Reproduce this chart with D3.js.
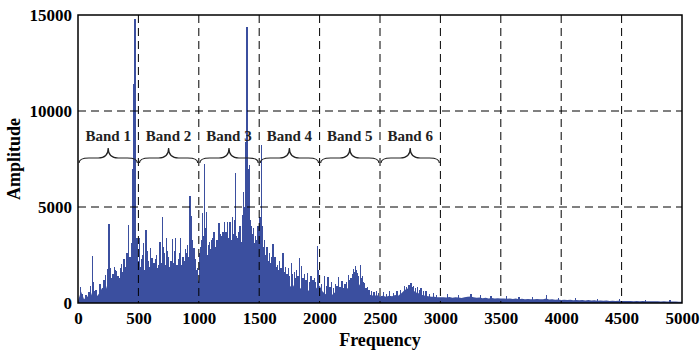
<!DOCTYPE html>
<html>
<head>
<meta charset="utf-8">
<script src="https://cdn.jsdelivr.net/npm/d3@7"></script>
<style>
  html, body { margin: 0; padding: 0; background: #fff; }
  svg { display: block; }
</style>
</head>
<body>
<svg id="chart"></svg>
<script>
const width = 700;
const height = 352;

// floor level of the spectrum, one value every 25 Hz from 0 to 5000
const floorStep = 25;
const floorAmp = [
  100, 600, 200, 350, 250, 700, 300, 500, 800, 600, 1100, 700, 1300, 900, 1200, 1000, 1600, 1200, 2000, 2400, 1800,
  1400, 900, 1500, 1000, 1300, 800, 1400, 1000, 1500, 900, 1300, 1000, 1600, 1100, 1500, 1200, 1900, 1500, 1600, 1100,
  2000, 1500, 2200, 1400, 2000, 1500, 2300, 1600, 2400, 1800, 2600, 2000, 2800, 2300, 3000, 2400, 2800, 2000, 2400, 2200,
  2600, 1700, 1900, 1300, 1500, 1000, 1300, 900, 1100, 800, 1000, 700, 900, 700, 800, 600, 750, 550, 800, 900,
  600, 450, 550, 400, 550, 450, 600, 500, 750, 800, 1100, 1200, 1000, 750, 600, 450, 420, 380, 400, 350,
  380, 330, 380, 350, 420, 380, 500, 650, 750, 700, 650, 550, 500, 420, 380, 350, 320, 330, 300, 300,
  300, 280, 310, 270, 300, 280, 260, 300, 320, 340, 300, 270, 280, 250, 270, 240, 260, 240, 250, 230,
  240, 220, 240, 210, 230, 200, 220, 190, 210, 200, 190, 210, 190, 200, 230, 180, 190, 170, 180, 160,
  170, 150, 170, 140, 160, 140, 150, 130, 150, 130, 140, 120, 130, 120, 130, 110, 120, 110, 120, 110,
  110, 100, 110, 95, 100, 90, 100, 90, 95, 85, 90, 85, 80, 85, 80, 75, 80, 75, 70, 70
];

// dominant spectral lines [frequency, amplitude]
const peaks = [
  [20, 850], [40, 450], [65, 400], [90, 550], [118, 2450], [128, 1100], [150, 700], [182, 1000],
  [200, 800], [230, 1450], [245, 1750], [256, 4100], [270, 1800], [290, 1500], [306, 1720], [320, 1650],
  [340, 1300], [360, 2050], [380, 2300], [395, 1900], [419, 4060], [430, 2400], [445, 3100], [455, 7000],
  [463, 11400], [471, 14800], [478, 7300], [488, 3400],
  [512, 3400], [525, 2300], [540, 3100], [562, 3800], [580, 2200], [600, 2850], [612, 2340], [630, 2100],
  [650, 2500], [665, 2000], [680, 3190], [700, 4460], [715, 2600], [733, 3370], [750, 2400], [770, 2200],
  [783, 3330], [800, 2700], [810, 3390], [830, 2300], [851, 3390], [870, 2400], [890, 2800], [905, 3000],
  [926, 5570], [935, 4530], [945, 3300], [960, 2850], [975, 2000], [990, 1800],
  [1012, 2900], [1030, 4700], [1050, 7240], [1065, 4740], [1080, 3000], [1095, 2800], [1110, 3300], [1125, 3700],
  [1140, 2900], [1150, 3300], [1168, 4170], [1185, 3500], [1200, 3700], [1215, 4200], [1237, 4220], [1250, 3400],
  [1265, 3800], [1280, 4500], [1306, 6770], [1320, 3400], [1340, 4000], [1360, 4600], [1372, 5800], [1385, 8400],
  [1399, 14390], [1408, 7000], [1421, 7190], [1435, 4000], [1450, 3890], [1470, 3500], [1490, 4010], [1506, 4500],
  [1517, 8230],
  [1530, 4000], [1545, 3280], [1565, 2900], [1585, 2600], [1614, 3070], [1630, 2400], [1650, 2000], [1670, 2200],
  [1697, 2590], [1720, 1900], [1740, 1800], [1766, 2080], [1790, 1600], [1810, 1700], [1835, 2330], [1850, 1930],
  [1875, 1500], [1900, 1560], [1930, 1400], [1955, 1300], [1981, 2970], [1990, 1720],
  [2041, 1400], [2070, 1340], [2100, 1100], [2130, 1000], [2157, 1340], [2185, 1160], [2210, 1000], [2242, 1460],
  [2260, 1300], [2281, 1770], [2295, 1930], [2310, 1560], [2336, 1980], [2355, 1400], [2372, 1040], [2395, 850],
  [2430, 650], [2470, 600],
  [2530, 550], [2580, 600], [2640, 650], [2700, 900], [2757, 1060], [2780, 900], [2810, 850], [2840, 770],
  [2880, 600], [2940, 500],
  [3060, 450], [3150, 430], [3253, 470], [3330, 420], [3420, 380], [3550, 360], [3650, 330], [3760, 320],
  [3878, 420], [3980, 280], [4120, 260], [4300, 230], [4480, 200], [4700, 180], [4900, 150]
];

// smaller lines filling the texture between the peaks [frequency, amplitude]
const minorLines = [
  [105, 900], [140, 600], [215, 1200], [262, 1500], [280, 1300], [300, 1900], [330, 1400], [350, 1800],
  [370, 1600], [405, 2600], [412, 1800], [438, 2000], [450, 2900], [495, 2600],
  [505, 2200], [518, 1900], [533, 2500], [548, 1700], [570, 2700], [590, 1900], [620, 1800], [640, 2300],
  [658, 1800], [672, 2400], [690, 2100], [708, 2900], [725, 2000], [742, 2700], [760, 1900], [792, 2100],
  [820, 2000], [840, 2600], [860, 2000], [880, 2200], [898, 2600], [915, 2400], [952, 2600], [968, 2300],
  [983, 1700],
  [1005, 2600], [1020, 3300], [1040, 3500], [1058, 3900], [1072, 2500], [1088, 3200], [1102, 2600], [1118, 3400],
  [1132, 2700], [1160, 3100], [1176, 3600], [1192, 2900], [1208, 3100], [1225, 3700], [1244, 3000], [1258, 4200],
  [1272, 3300], [1290, 3600], [1298, 4300], [1313, 3500], [1330, 3700], [1350, 3200], [1367, 4400], [1378, 5000],
  [1392, 6200], [1414, 5200], [1428, 4300], [1442, 3600], [1458, 3100], [1478, 3300], [1498, 3000], [1512, 3900],
  [1522, 3600], [1538, 2900], [1555, 2500], [1575, 2200], [1595, 2100], [1605, 2400], [1622, 2000], [1640, 1900],
  [1660, 1700], [1680, 1800], [1710, 1600], [1730, 1500], [1752, 1400], [1778, 1500], [1800, 1300], [1822, 1400],
  [1862, 1300], [1888, 1200], [1915, 1100], [1945, 1200], [1968, 1100],
  [2015, 1000], [2055, 900], [2085, 850], [2115, 800], [2145, 900], [2170, 850], [2200, 800], [2225, 1100],
  [2250, 1200], [2270, 1500], [2288, 1600], [2302, 1700], [2320, 1400], [2345, 1300], [2365, 1100], [2385, 800],
  [2410, 700], [2450, 550], [2490, 500],
  [2555, 450], [2610, 500], [2670, 700], [2720, 850], [2740, 950], [2770, 850], [2795, 800], [2825, 700],
  [2860, 600], [2910, 450], [2970, 420]
];

const bandNames = ["Band 1", "Band 2", "Band 3", "Band 4", "Band 5", "Band 6"];
const bandEdges = [0, 500, 1000, 1500, 2000, 2500, 3000];

const xTicks = [0, 500, 1000, 1500, 2000, 2500, 3000, 3500, 4000, 4500, 5000];
const yTicks = [0, 5000, 10000, 15000];

const margin = { top: 15, right: 18, bottom: 49, left: 78 };
const innerW = width - margin.left - margin.right;
const innerH = height - margin.top - margin.bottom;

const x = d3.scaleLinear().domain([0, 5000]).range([0, innerW]);
const y = d3.scaleLinear().domain([0, 15000]).range([innerH, 0]);

const blue = "#3b4f9f";
const font = "'Liberation Serif', 'Times New Roman', serif";

const svg = d3.select("#chart").attr("width", width).attr("height", height);
const g = svg.append("g").attr("transform", `translate(${margin.left},${margin.top})`);

// spectrum floor
const floorData = floorAmp.map((a, i) => [i * floorStep, a]);
g.append("path")
  .datum(floorData)
  .attr("fill", blue)
  .attr("d", d3.area().x(d => x(d[0])).y0(y(0)).y1(d => y(d[1])));

// spectral lines
g.append("g")
  .attr("shape-rendering", "crispEdges")
  .selectAll("line")
  .data(minorLines.concat(peaks))
  .join("line")
  .attr("x1", d => x(d[0]))
  .attr("x2", d => x(d[0]))
  .attr("y1", y(0))
  .attr("y2", d => y(d[1]))
  .attr("stroke", blue)
  .attr("stroke-width", 1.3);

// dashed grid
const grid = g.append("g")
  .attr("stroke", "#000")
  .attr("stroke-width", 1)
  .attr("stroke-dasharray", "8,5");
grid.selectAll("line.v")
  .data(xTicks.slice(1, -1))
  .join("line")
  .attr("class", "v")
  .attr("x1", d => x(d)).attr("x2", d => x(d))
  .attr("y1", 0).attr("y2", innerH);
grid.selectAll("line.h")
  .data(yTicks.slice(1, -1))
  .join("line")
  .attr("class", "h")
  .attr("x1", 0).attr("x2", innerW)
  .attr("y1", d => y(d)).attr("y2", d => y(d));

// axes
const xAxis = g.append("g")
  .attr("transform", `translate(0,${innerH})`)
  .call(d3.axisBottom(x).tickValues(xTicks).tickSize(0).tickPadding(9).tickFormat(d3.format("d")));
const yAxis = g.append("g")
  .call(d3.axisLeft(y).tickValues(yTicks).tickSize(0).tickPadding(6).tickFormat(d3.format("d")));
[xAxis, yAxis].forEach(a => {
  a.select(".domain").remove();
  a.selectAll("text")
    .attr("fill", "#000")
    .style("font-family", font)
    .style("font-weight", "bold")
    .style("font-size", "17px");
});

// frame
g.append("rect")
  .attr("width", innerW)
  .attr("height", innerH)
  .attr("fill", "none")
  .attr("stroke", "#000")
  .attr("stroke-width", 1.5);

// band braces
const braceTop = 133;   // tip of the brace
const braceMid = 143;   // horizontal run
const braceEnd = 148;   // curled ends
function bracePath(x0, x1) {
  const m = (x0 + x1) / 2;
  const r = 5;
  return `M${x0},${braceEnd}` +
    ` Q${x0},${braceMid} ${x0 + r * 2},${braceMid}` +
    ` L${m - r * 2},${braceMid}` +
    ` Q${m},${braceMid} ${m},${braceTop}` +
    ` Q${m},${braceMid} ${m + r * 2},${braceMid}` +
    ` L${x1 - r * 2},${braceMid}` +
    ` Q${x1},${braceMid} ${x1},${braceEnd}`;
}
const bands = bandNames.map((name, i) => ({ name, lo: bandEdges[i], hi: bandEdges[i + 1] }));
g.append("g")
  .selectAll("path")
  .data(bands)
  .join("path")
  .attr("d", d => bracePath(x(d.lo) + 1, x(d.hi) - 1))
  .attr("fill", "none")
  .attr("stroke", "#222")
  .attr("stroke-width", 1.2);
g.append("g")
  .selectAll("text")
  .data(bands)
  .join("text")
  .attr("x", d => x((d.lo + d.hi) / 2))
  .attr("y", 126)
  .attr("text-anchor", "middle")
  .attr("fill", "#222")
  .style("font-family", font)
  .style("font-weight", "bold")
  .style("font-size", "15px")
  .text(d => d.name);

// axis titles
svg.append("text")
  .attr("x", margin.left + innerW / 2)
  .attr("y", 346)
  .attr("text-anchor", "middle")
  .style("font-family", font)
  .style("font-weight", "bold")
  .style("font-size", "18px")
  .text("Frequency");
svg.append("text")
  .attr("transform", `translate(20,${margin.top + innerH / 2}) rotate(-90)`)
  .attr("text-anchor", "middle")
  .style("font-family", font)
  .style("font-weight", "bold")
  .style("font-size", "18px")
  .text("Amplitude");
</script>
</body>
</html>
